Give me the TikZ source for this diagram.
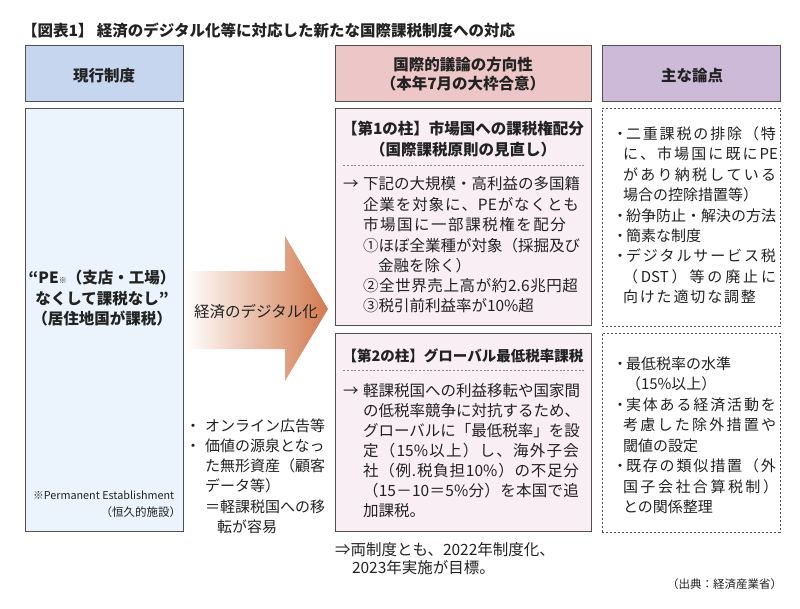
\documentclass[tikz,border=0pt]{standalone}
\usepackage{fontspec}
\setmainfont{Noto Sans CJK JP}
\usetikzlibrary{calc}
\ExplSyntaxOn
\NewDocumentCommand\JLine{mm}{\makebox[#1][s]{\tl_map_inline:nn{#2}{##1\hfil}\unskip}}
\ExplSyntaxOff
\newcommand\bulbox[1]{\makebox[#1][c]{・}}
\newcommand\myfs{\fontsize{15.5}{18}\selectfont}
\newcommand\myfsR{\fontsize{15}{18}\selectfont}
\newcommand\myfsS{\fontsize{11.5}{14}\selectfont}
\newcommand\myfsN{\fontsize{10.8}{13}\selectfont}
\definecolor{cHB}{HTML}{C6D6EE}
\definecolor{cBB}{HTML}{EBF4FC}
\definecolor{cHP}{HTML}{EDC7C7}
\definecolor{cBP}{HTML}{F8EEF4}
\definecolor{cHL}{HTML}{CDBAD9}
\definecolor{cBd}{HTML}{505050}
\definecolor{cAr}{HTML}{D27A4E}
\definecolor{cTx}{HTML}{222222}
\definecolor{cDs}{HTML}{8A8A8A}
\begin{document}
\begin{tikzpicture}[x=1pt,y=-1pt,
  box/.style={draw=cBd, line width=0.9pt, inner sep=0pt, outer sep=0pt},
  dbox/.style={draw=cBd, line width=0.9pt, dash pattern=on 2.4pt off 1.6pt, fill=white, inner sep=0pt, outer sep=0pt},
  ln/.style={anchor=base west, inner sep=0pt, outer sep=0pt, text=cTx, font=\myfs},
  lnR/.style={ln, font=\myfsR},
  lnc/.style={anchor=base, inner sep=0pt, outer sep=0pt, text=cTx, font=\myfs\bfseries},
  sep/.style={draw=cDs, line width=0.7pt, dash pattern=on 2pt off 1.8pt}]
\useasboundingbox (0,0) rectangle (800,608);
\fill[white] (0,0) rectangle (800,608);

% title
\node[ln, font=\myfs\bfseries] (title) at (22,36) {【図表1】 経済のデジタル化等に対応した新たな国際課税制度への対応};

% header boxes
\node[box, fill=cHB, minimum width=158pt, minimum height=56pt] (hL) at (104,73) {};
\node[box, fill=cHP, minimum width=256pt, minimum height=56pt] (hM) at (463,73) {};
\node[box, fill=cHL, minimum width=178pt, minimum height=56pt] (hR) at (691,73) {};
\node[lnc] (hLt) at (104,81) {現行制度};
\node[lnc] (hMt1) at (463,70) {国際的議論の方向性};
\node[lnc] (hMt2) at (463,89) {（本年7月の大枠合意）};
\node[lnc] (hRt) at (692,81) {主な論点};

% body boxes
\node[box, fill=cBB, minimum width=158pt, minimum height=423pt] (bL) at (104,319.5) {};
\node[box, fill=cBP, minimum width=256pt, minimum height=217pt] (bM1) at (463,216.5) {};
\node[box, fill=cBP, minimum width=256pt, minimum height=198.5pt] (bM2) at (463,432.25) {};
\node[dbox, minimum width=178pt, minimum height=218pt] (bR1) at (691,217) {};
\node[dbox, minimum width=178pt, minimum height=199pt] (bR2) at (691,432.5) {};

% arrow
\shade[left color=white, right color=cAr] (185,271) -- (285,271) -- (285,236) -- (328,309) -- (285,381) -- (285,349) -- (185,349) -- cycle;
\node[anchor=base, inner sep=0pt, text=cTx, font=\myfs] (arT) at (256,317.5) {経済のデジタル化};

% left column
\node[lnc] (q1) at (102,283) {“PE{\fontsize{8}{8}\selectfont ※}（支店・工場）};
\node[lnc] (q2) at (102,304) {なくして課税なし”};
\node[lnc] (q3) at (102,324) {（居住地国が課税）};
\node[ln, font=\myfsN] (fn1) at (33,499) {※Permanent Establishment};
\node[ln, anchor=base east, font=\myfsS] (fn2) at (181,516.5) {（恒久的施設）};

% pillar 1
\node[lnc] (p1a) at (463,134) {【第1の柱】市場国への課税権配分};
\node[lnc] (p1b) at (463,155) {（国際課税原則の見直し）};
\draw[sep] (343,165) -- (584,165);
\node[ln] (p1l1) at (343,189) {\makebox[20pt][l]{→}下記の大規模・高利益の多国籍};
\node[ln] (p1l2) at (363,210) {\JLine{216pt}{企業を対象に、{PE}がなくとも}};
\node[ln] (p1l3) at (363,230) {\JLine{203pt}{市場国に一部課税権を配分}};
\node[ln] (p1l4) at (363,251) {①ほぼ全業種が対象（採掘及び};
\node[ln] (p1l5) at (378,271) {金融を除く）};
\node[ln] (p1l6) at (363,291) {\JLine{215pt}{②全世界売上高が約{2.6}兆円超}};
\node[ln] (p1l7) at (363,311) {③税引前利益率が10\%超};

% pillar 2
\node[lnc, font=\fontsize{14.5}{17}\selectfont\bfseries] (p2a) at (463,361) {【第2の柱】グローバル最低税率課税};
\draw[sep] (343,370) -- (584,370);
\node[ln] (p2l1) at (343,396) {\makebox[20pt][l]{→}軽課税国への利益移転や国家間};
\node[ln] (p2l2) at (363,416) {の低税率競争に対抗するため、};
\node[ln] (p2l3) at (363,436) {グローバルに「最低税率」を設};
\node[ln] (p2l4) at (363,456) {\JLine{216pt}{定（{15\%}以上）し、海外子会}};
\node[ln] (p2l5) at (363,476) {\JLine{216pt}{社（例.税負担{10\%}）の不足分}};
\node[ln] (p2l6) at (363,496) {\JLine{216pt}{（{15}－{10}＝{5\%}分）を本国で追}};
\node[ln] (p2l7) at (363,516) {加課税。};

% right column 1
\node[lnR] (r1l1) at (614,139) {\bulbox{12pt}\JLine{150pt}{二重課税の排除（特}};
\node[lnR] (r1l2) at (623,159.5) {\JLine{155pt}{に、市場国に既に{PE}}};
\node[lnR] (r1l3) at (623,180) {\JLine{153pt}{があり納税している}};
\node[lnR] (r1l4) at (623,200.5) {場合の控除措置等）};
\node[lnR] (r1l5) at (614,221) {\bulbox{12pt}紛争防止・解決の方法};
\node[lnR] (r1l6) at (614,241) {\bulbox{12pt}簡素な制度};
\node[lnR] (r1l7) at (614,261.5) {\bulbox{12pt}\JLine{150pt}{デジタルサービス税}};
\node[lnR] (r1l8) at (623,282) {\JLine{153pt}{（{DST}）等の廃止に}};
\node[lnR] (r1l9) at (623,302.5) {\JLine{133pt}{向けた適切な調整}};

% right column 2
\node[lnR] (r2l1) at (614,369) {\bulbox{12pt}最低税率の水準};
\node[lnR] (r2l2) at (626,389.5) {（15\%以上）};
\node[lnR] (r2l3) at (614,410) {\bulbox{12pt}\JLine{150pt}{実体ある経済活動を}};
\node[lnR] (r2l4) at (623,430.5) {\JLine{153pt}{考慮した除外措置や}};
\node[lnR] (r2l5) at (623,451) {閾値の設定};
\node[lnR] (r2l6) at (614,471.5) {\bulbox{12pt}\JLine{150pt}{既存の類似措置（外}};
\node[lnR] (r2l7) at (623,492) {\JLine{155pt}{国子会社合算税制）}};
\node[lnR] (r2l8) at (623,512.5) {との関係整理};

% left bullets
\node[lnR] (lb1) at (181,431) {\bulbox{24pt}オンライン広告等};
\node[lnR] (lb2) at (181,451) {\bulbox{24pt}価値の源泉となっ};
\node[lnR] (lb3) at (205,471) {た無形資産（顧客};
\node[lnR] (lb4) at (205,491) {データ等）};
\node[lnR] (lb5) at (205,512) {＝軽課税国への移};
\node[lnR] (lb6) at (217,532) {転が容易};

% bottom
\node[ln] (b1) at (335,555) {⇒両制度とも、2022年制度化、};
\node[ln] (b2) at (352,573) {2023年実施が目標。};
\node[ln, anchor=base east, font=\myfsS] (src) at (782,588) {（出典：経済産業省）};
\end{tikzpicture}
\end{document}
